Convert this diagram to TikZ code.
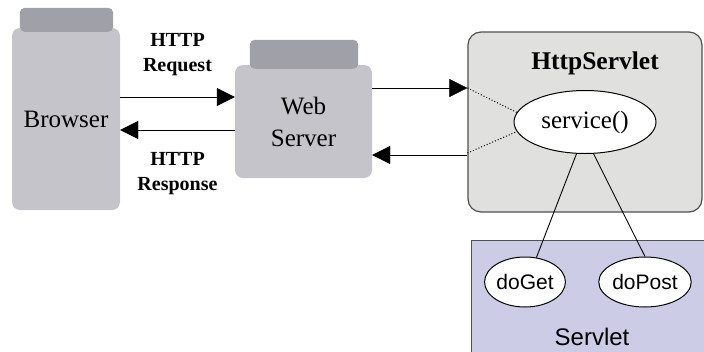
\documentclass[tikz,border=0pt]{standalone}
\usepackage{fontspec}
\setmainfont{Liberation Serif}
\setsansfont{Liberation Sans}
\usetikzlibrary{positioning}
\usetikzlibrary{arrows.meta}
\usetikzlibrary{shapes.geometric}
\definecolor{boxgrey}{RGB}{196,196,202}
\definecolor{bandgrey}{RGB}{160,160,168}
\definecolor{panelgrey}{RGB}{224,224,222}
\definecolor{lilac}{RGB}{204,204,230}
\definecolor{edgegrey}{RGB}{80,80,80}
\tikzset{
  machine/.style   = { rectangle, rounded corners=8pt, fill=boxgrey, align=center },
  band/.style      = { fill=bandgrey, rounded corners=5pt },
  panel/.style     = { rectangle, rounded corners=13pt, draw=edgegrey, line width=1.2pt, fill=panelgrey },
  method/.style    = { ellipse, draw=black, line width=1pt, fill=white, inner sep=0pt },
  tag/.style       = { inner sep=0pt, align=center, font=\fontsize{20}{25}\selectfont\bfseries },
}
\tikzset{
  servetext/.style = { font=\fontsize{25}{25}\selectfont },
  handler/.style   = { method, minimum width=77pt, minimum height=50pt, font=\sffamily\fontsize{21}{21}\selectfont },
}

\begin{document}
\begin{tikzpicture}[
  x=1pt,y=-1pt,
  >={Triangle[length=18pt,width=18pt]},
  every new ->/.style={line width=1.6pt}
]
  \clip (0,0) rectangle (704,351);

  % client and web server boxes
  \node (browser)   [machine,minimum width=108pt,minimum height=182pt,font=\fontsize{25}{30}\selectfont] at (66,119)    {Browser};
  \node (webserver) [machine,minimum width=137pt,minimum height=113pt,font=\fontsize{25}{32}\selectfont] at (303.5,121.5) {Web\\Server};
  \fill [band] ([xshift=8pt,yshift=-4pt]browser.north west)    rectangle ([xshift=-7pt,yshift=20pt]browser.north east);
  \fill [band] ([xshift=15pt,yshift=-4pt]webserver.north west) rectangle ([xshift=-14pt,yshift=25pt]webserver.north east);

  % servlet side
  \node (httpservlet) [panel,minimum width=234pt,minimum height=180pt] at (585,122) {};
  \node (title) [below=20pt of httpservlet.north,xshift=10pt,inner sep=0pt,font=\fontsize{25.5}{25.5}\selectfont\bfseries] {HttpServlet};
  \node (service) [method,servetext,minimum width=142pt,minimum height=63pt] at (585,122) {service()};

  \node (servlet) [rectangle,draw=edgegrey,line width=1.2pt,fill=lilac,anchor=north west,minimum width=260pt,minimum height=130pt] at (471,240) {};
  \node (servletname) [anchor=base,inner sep=0pt,font=\sffamily\fontsize{24}{24}\selectfont] at (592,345) {Servlet};
  \node (doget)  [handler] at (525,282) {doGet};
  \node (dopost) [handler] at (645,282) {doPost};

  % requests and responses
  \draw [->] ([yshift=22pt]browser.east) -- ([yshift=22pt]browser.east -| webserver.west)
             node [midway,above=21pt,tag] {HTTP\\Request};
  \draw [->] ([yshift=-11pt]browser.east -| webserver.west) -- ([yshift=-11pt]browser.east)
             node [midway,below=22pt,tag] {HTTP\\Response};
  \draw [->] ([yshift=33.5pt]webserver.east) -- ([yshift=33.5pt]webserver.east -| httpservlet.west);
  \draw [->] ([yshift=-33.5pt]webserver.east -| httpservlet.west) -- ([yshift=-33.5pt]webserver.east);

  \draw [dotted,line width=1pt] ([yshift=34pt]httpservlet.west)  -- (service.172);
  \draw [dotted,line width=1pt] ([yshift=-31pt]httpservlet.west) -- (service.188);
  \draw [line width=0.9pt] (service.255) -- (doget.65);
  \draw [line width=0.9pt] (service.285) -- (dopost.north);

\end{tikzpicture}
\end{document}
